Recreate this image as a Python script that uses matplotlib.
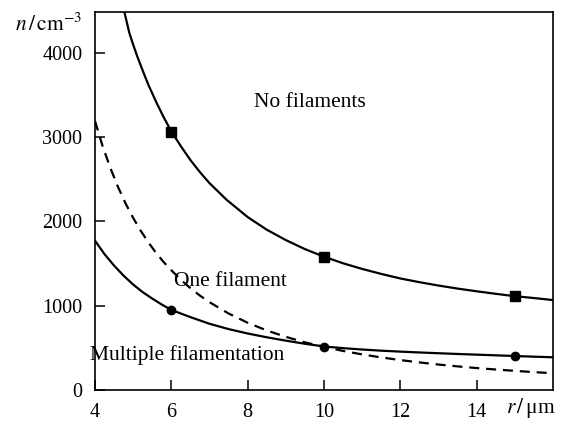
import matplotlib
matplotlib.use("Agg")
import matplotlib.pyplot as plt

plt.rcParams['font.family'] = ['Liberation Serif', 'DejaVu Serif']
plt.rcParams['mathtext.fontset'] = 'stix'

# curves
r_none = [4.76, 4.9, 5.0, 5.1, 5.26, 5.4, 5.62, 5.8, 6.0, 6.25, 6.5, 6.75, 7.0, 7.45, 8.0,
          8.5, 9.0, 9.5, 10.0, 10.5, 11.0, 11.5, 12.0, 12.5, 13.0, 13.5, 14.0, 14.5,
          15.0, 15.5, 16.0]
n_none = [4500, 4233, 4094, 3964, 3775, 3616, 3398, 3233, 3065, 2890, 2726, 2582, 2452,
          2254, 2050, 1900, 1777, 1670, 1580, 1502, 1435, 1376, 1322, 1278, 1238, 1202,
          1170, 1140, 1112, 1090, 1066]

r_one = [4.0, 4.2, 4.4, 4.6, 4.8, 5.0, 5.2, 5.4, 5.6, 5.8, 6.0, 6.25, 6.5, 6.75, 7.0,
         7.5, 8.0, 8.5, 9.0, 9.5, 10.0, 10.5, 11.0, 11.5, 12.0, 12.5, 13.0, 13.5, 14.0,
         14.5, 15.0, 15.5, 16.0]
n_one = [3190, 2890, 2635, 2410, 2213, 2040, 1886, 1749, 1626, 1516, 1420, 1306, 1207,
         1119, 1041, 907, 797, 706, 630, 565, 512, 463, 422, 386, 355, 327, 302, 280,
         260, 243, 227, 212, 199]

r_multi = [4.0, 4.25, 4.5, 4.75, 5.0, 5.25, 5.5, 5.75, 6.0, 6.5, 7.0, 7.5, 8.0, 8.5,
           9.0, 9.5, 10.0, 10.5, 11.0, 11.5, 12.0, 12.5, 13.0, 13.5, 14.0, 14.5, 15.0,
           15.5, 16.0]
n_multi = [1770, 1610, 1475, 1355, 1250, 1160, 1084, 1013, 949, 864, 785, 722, 670, 625,
           585, 548, 516, 496, 480, 466, 455, 445, 436, 427, 419, 411, 403, 395, 388]

# measured points
r_pts = [6, 10, 15]
sq_pts = [3060, 1580, 1110]
ci_pts = [949, 514, 403]

fig = plt.figure(figsize=(5.63, 4.23), dpi=100)
ax = fig.add_axes([0.1687, 0.078, 0.8135, 0.8936])

ax.plot(r_none, n_none, color='black', lw=1.6)
ax.plot(r_one, n_one, color='black', lw=1.6, dashes=(4.5, 3.1))
ax.plot(r_multi, n_multi, color='black', lw=1.6)
ax.plot(r_pts, sq_pts, 's', color='black', ms=6.5, lw=0)
ax.plot(r_pts, ci_pts, 'o', color='black', ms=6, lw=0)

ax.set_xlim(4, 16)
ax.set_ylim(0, 4480)
ax.set_xticks([4, 6, 8, 10, 12, 14])
ax.set_yticks([0, 1000, 2000, 3000, 4000])
ax.tick_params(direction='in', length=7, width=1.1, labelsize=14.5, pad=9,
               top=False, right=False)
for s in ax.spines.values():
    s.set_linewidth(1.2)

ax.text(9.63, 3405, 'No filaments', fontsize=15.5, ha='center', va='center')
ax.text(7.56, 1281, 'One filament', fontsize=15.5, ha='center', va='center')
ax.text(6.41, 415, 'Multiple filamentation', fontsize=15.5, ha='center', va='center')

fig.text(82 / 563, 1 - 25 / 423, r'$n\,/\,\mathrm{cm}^{-3}$', fontsize=15.5,
         ha='right', va='center')
fig.text(555 / 563, 1 - 408 / 423, r'$r\,/\,$μm', fontsize=15.5,
         ha='right', va='center')

fig.savefig('out.png', dpi=100)
